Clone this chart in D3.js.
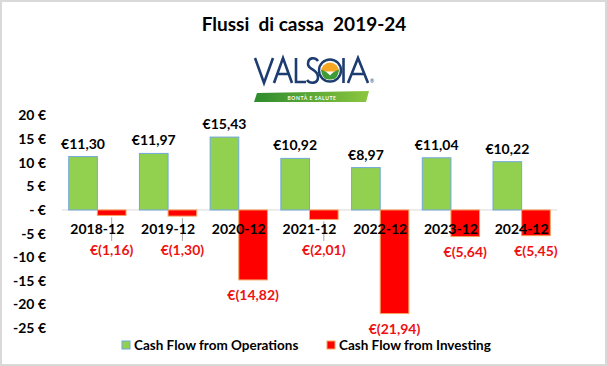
<!DOCTYPE html>
<head>
  <meta charset="utf-8">
  <script src="https://d3js.org/d3.v7.min.js"></script>
  <style>
    body { margin: 0; background: #fff; }
    svg text { font-family: 'Lato', 'Open Sans', sans-serif; }
    .lbl { font-size: 14px; font-weight: bold; }
  </style>
</head>
<body>
  <div id="chart"></div>
  <script>
    // data
    var categories = ['2018-12', '2019-12', '2020-12', '2021-12', '2022-12', '2023-12', '2024-12'];
    var series = ['Cash Flow from Operations', 'Cash Flow from Investing'];
    var operations = [11.30, 11.97, 15.43, 10.92, 8.97, 11.04, 10.22];
    var investing = [-1.16, -1.30, -14.82, -2.01, -21.94, -5.64, -5.45];
    var yTicks = [20, 15, 10, 5, 0, -5, -10, -15, -20, -25];

    var w = 607, h = 366;
    var fills = ['#92d050', '#ff0000'];
    var strokes = ['#6fa8dc', '#f4a460'];
    var navy = '#1d3c70';

    var svg = d3.select('#chart').append('svg')
      .attr('width', w)
      .attr('height', h);

    svg.append('rect')
      .attr('x', 1).attr('y', 1)
      .attr('width', w - 2).attr('height', h - 2)
      .attr('fill', '#fff')
      .attr('stroke', '#d9d9d9')
      .attr('stroke-width', 2);

    // title
    svg.append('text')
      .attr('x', 304).attr('y', 31)
      .attr('text-anchor', 'middle')
      .style('font-size', '19px')
      .style('font-weight', 'bold')
      .style('white-space', 'pre')
      .text('Flussi  di cassa  2019-24');

    // logo, thin stroked letters
    var logo = svg.append('g')
      .attr('fill', 'none')
      .attr('stroke', navy)
      .attr('stroke-width', 2.6)
      .attr('stroke-linejoin', 'miter');
    var letters = [
      'M255,58 L264,83 L273,58',              // V
      'M274,83 L283,58 L292,83 M278,74 L288,74', // A
      'M296,58 L296,82 L306,82',              // L
      'M318,61 C315,57 308,57 308,64 C308,70 318,69 318,77 C318,84 310,84 307,80', // S
      'M343.5,58 L343.5,83',                  // I
      'M348,83 L358,58 L368,83 M352,74 L364,74' // A
    ];
    logo.selectAll('path.letter')
      .data(letters)
      .enter().append('path')
      .attr('class', 'letter')
      .attr('d', function (d) { return d; });

    svg.append('text')
      .attr('x', 370).attr('y', 83)
      .style('font-size', '5px')
      .attr('fill', navy)
      .text('®');

    var cx = 330, cy = 70.5, r = 11;
    svg.append('circle').attr('cx', cx).attr('cy', cy).attr('r', r)
      .attr('fill', '#fff').attr('stroke', navy).attr('stroke-width', 2.4);
    svg.append('path')
      .attr('d', d3.arc()({ innerRadius: 0, outerRadius: r - 2, startAngle: -Math.PI / 2, endAngle: Math.PI / 2 }))
      .attr('transform', 'translate(' + cx + ',' + (cy + 1) + ')')
      .attr('fill', '#f5a623');
    svg.append('path')
      .attr('d', 'M' + (cx - 9) + ',' + (cy - 1) + ' Q' + (cx - 8) + ',' + (cy + 10) + ' ' + cx + ',' + (cy + 9)
        + ' Q' + (cx + 8) + ',' + (cy + 10) + ' ' + (cx + 9) + ',' + (cy - 1)
        + ' Q' + (cx + 3) + ',' + (cy + 1) + ' ' + cx + ',' + (cy + 5)
        + ' Q' + (cx - 3) + ',' + (cy + 1) + ' ' + (cx - 9) + ',' + (cy - 1) + 'Z')
      .attr('fill', '#3f9b35');

    var grad = svg.append('defs').append('linearGradient').attr('id', 'rib');
    grad.append('stop').attr('offset', '0%').attr('stop-color', '#2e8b2e');
    grad.append('stop').attr('offset', '100%').attr('stop-color', '#8cc63f');
    svg.append('path')
      .attr('d', 'M257,93 L369,91 L366,102 L254,102 Z')
      .attr('fill', 'url(#rib)');
    svg.append('text')
      .attr('x', 312).attr('y', 99.5)
      .attr('text-anchor', 'middle')
      .style('font-size', '5px')
      .style('font-weight', 'bold')
      .style('letter-spacing', '0.6px')
      .attr('fill', '#fff')
      .text('BONTÀ E SALUTE');

    // scales
    var x0 = d3.scaleBand()
      .domain(categories)
      .range([62, 557])
      .paddingInner(0.19)
      .paddingOuter(0.095);

    var x1 = d3.scaleBand()
      .domain(series)
      .range([0, x0.bandwidth()]);

    var y = d3.scaleLinear()
      .domain([-25, 20])
      .range([328, 115.5]);

    // y axis labels
    var fmt = function (d) { return d === 0 ? '- €' : d + ' €'; };
    svg.append('g')
      .attr('transform', 'translate(46,0)')
      .call(d3.axisLeft(y).tickValues(yTicks).tickFormat(fmt).tickSize(0).tickPadding(0))
      .call(function (g) { g.select('.domain').remove(); })
      .selectAll('text')
      .attr('class', 'lbl')
      .attr('fill', '#000')
      .style('font-family', 'Lato, sans-serif');

    // zero line
    svg.append('line')
      .attr('x1', 62).attr('x2', 557)
      .attr('y1', y(0)).attr('y2', y(0))
      .attr('stroke', '#d9d9d9');

    var rows = categories.map(function (c, i) {
      return { cat: c, vals: [operations[i], investing[i]] };
    });

    var groups = svg.selectAll('.grp')
      .data(rows)
      .enter().append('g')
      .attr('class', 'grp')
      .attr('transform', function (d) { return 'translate(' + x0(d.cat) + ',0)'; });

    groups.selectAll('rect')
      .data(function (d) { return d.vals.map(function (v, k) { return { s: series[k], k: k, v: v }; }); })
      .enter().append('rect')
      .attr('x', function (d) { return x1(d.s); })
      .attr('width', x1.bandwidth())
      .attr('y', function (d) { return y(Math.max(0, d.v)); })
      .attr('height', function (d) { return Math.abs(y(d.v) - y(0)); })
      .attr('fill', function (d) { return fills[d.k]; })
      .attr('stroke', function (d) { return strokes[d.k]; })
      .attr('stroke-width', 1);

    var eur = function (v) {
      var s = Math.abs(v).toFixed(2).replace('.', ',');
      return v < 0 ? '€(' + s + ')' : '€' + s;
    };

    // operations labels
    groups.append('text')
      .attr('class', 'lbl')
      .attr('x', x1(series[0]) + x1.bandwidth() / 2)
      .attr('y', function (d) { return y(d.vals[0]) - 8; })
      .attr('text-anchor', 'middle')
      .attr('fill', '#000')
      .text(function (d) { return eur(d.vals[0]); });

    // investing labels, moved below the category labels when too close
    var minCenter = y(0) + 40;
    var redCenter = function (d) { return Math.max(y(d.vals[1]) + 15, minCenter); };

    groups.filter(function (d) { return y(d.vals[1]) + 15 < minCenter - 2; })
      .append('line')
      .attr('x1', x1(series[1]) + x1.bandwidth() / 2)
      .attr('x2', x1(series[1]) + x1.bandwidth() / 2)
      .attr('y1', function (d) { return y(d.vals[1]) + 2; })
      .attr('y2', function (d) { return redCenter(d) - 9; })
      .attr('stroke', '#a6a6a6');

    groups.append('text')
      .attr('class', 'lbl')
      .attr('x', x1(series[1]) + x1.bandwidth() / 2)
      .attr('y', function (d) { return redCenter(d) + 5; })
      .attr('text-anchor', 'middle')
      .attr('fill', '#ee1111')
      .text(function (d) { return eur(d.vals[1]); });

    // category labels, on top of bars
    groups.append('text')
      .attr('class', 'lbl')
      .attr('x', x0.bandwidth() / 2)
      .attr('y', y(0) + 24)
      .attr('text-anchor', 'middle')
      .attr('fill', '#000')
      .text(function (d) { return d.cat; });

    // legend
    var leg = svg.append('g')
      .selectAll('g')
      .data(series)
      .enter().append('g')
      .attr('transform', function (d, i) { return 'translate(' + [122, 327][i] + ',341)'; });
    leg.append('rect')
      .attr('width', 8).attr('height', 8)
      .attr('fill', function (d, i) { return fills[i]; })
      .attr('stroke', function (d, i) { return strokes[i]; });
    leg.append('text')
      .attr('class', 'lbl')
      .attr('x', 12).attr('y', 9)
      .style('font-size', '13.5px')
      .attr('fill', '#000')
      .text(function (d) { return d; });
  </script>
</body>
</html>
